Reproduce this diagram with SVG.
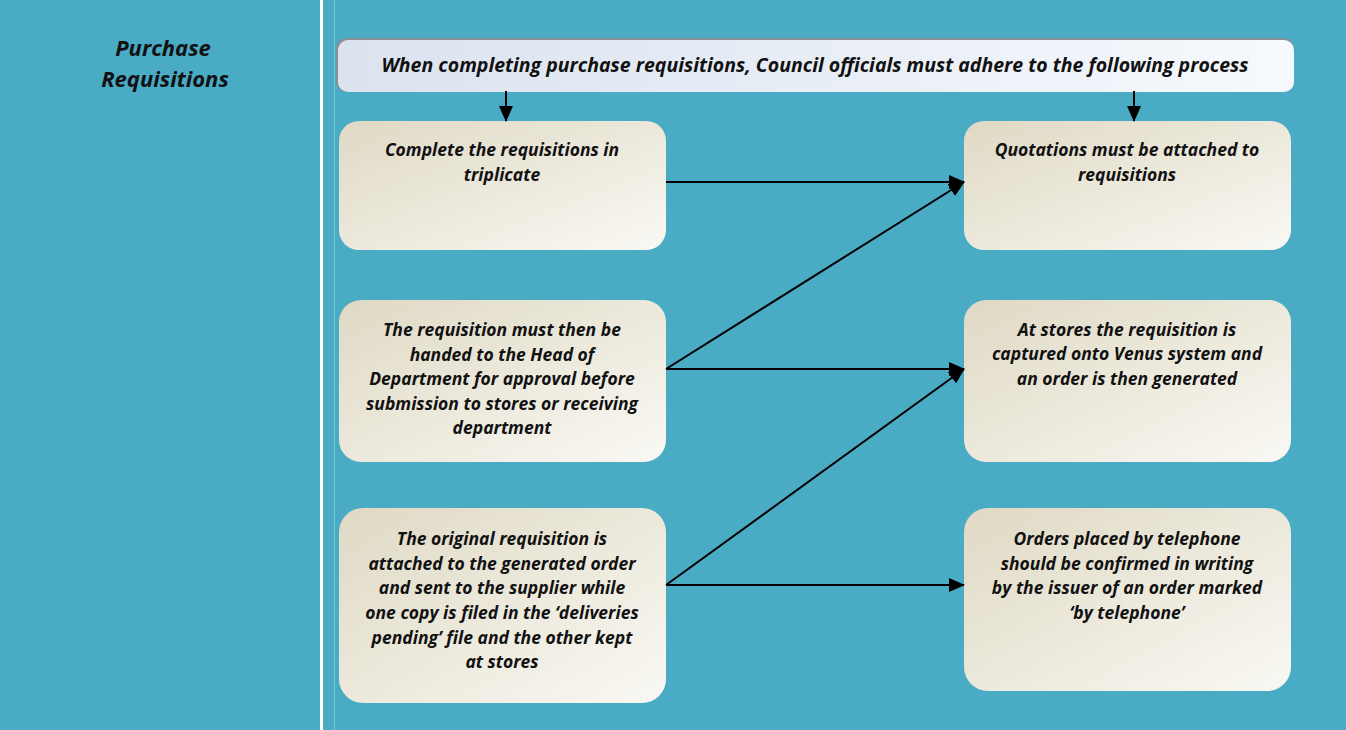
<svg xmlns="http://www.w3.org/2000/svg" width="1346" height="730" viewBox="0 0 1346 730">
<defs>
<linearGradient id="boxGrad" x1="0" y1="0" x2="1" y2="1">
<stop offset="0" stop-color="#DFD9C4"/>
<stop offset="1" stop-color="#F9F8F3"/>
</linearGradient>
<linearGradient id="headGrad" x1="0" y1="0" x2="1" y2="0">
<stop offset="0" stop-color="#DBE3EF"/>
<stop offset="1" stop-color="#F6F9FD"/>
</linearGradient>
<marker id="arrBig" markerWidth="16" markerHeight="14" refX="15" refY="7" orient="auto" markerUnits="userSpaceOnUse" viewBox="0 0 16 14">
<path d="M0,0 L16,7 L0,14 z" fill="#000"/>
</marker>
</defs>
<style>
.t{font-family:"Open Sans","Noto Sans","Liberation Sans",sans-serif;font-weight:bold;font-style:italic;fill:#111;text-anchor:middle}
.b{font-size:17.5px}
.box{fill:url(#boxGrad)}
.con{stroke:#000;stroke-width:2;fill:none}
</style>
<rect x="0" y="0" width="1346" height="730" fill="#4AABC5"/>
<rect x="320" y="0" width="3" height="730" fill="#FFFFFF"/>
<rect x="334" y="0" width="1" height="730" fill="#7CC3D6"/>
<g id="title">
<text class="t" x="163" y="56" font-size="22">Purchase</text>
<text class="t" x="165" y="87" font-size="22">Requisitions</text>
</g>
<g id="header">
<rect x="336" y="38" width="958" height="54" rx="11" fill="#8A8F96"/>
<rect x="338" y="40" width="956" height="52" rx="10" fill="url(#headGrad)"/>
<text class="t" x="815" y="72" font-size="19.5">When completing purchase requisitions, Council officials must adhere to the following process</text>
</g>
<g id="n1">
<rect class="box" x="339" y="121" width="327" height="129" rx="20"/>
<text class="t b" x="502" y="156">Complete the requisitions in</text>
<text class="t b" x="502" y="181">triplicate</text>
</g>
<g id="n2">
<rect class="box" x="964" y="121" width="327" height="129" rx="20"/>
<text class="t b" x="1127" y="156">Quotations must be attached to</text>
<text class="t b" x="1127" y="181">requisitions</text>
</g>
<g id="n3">
<rect class="box" x="339" y="300" width="327" height="162" rx="22"/>
<text class="t b" x="502" y="336">The requisition must then be</text>
<text class="t b" x="502" y="361">handed to the Head of</text>
<text class="t b" x="502" y="385">Department for approval before</text>
<text class="t b" x="502" y="410">submission to stores or receiving</text>
<text class="t b" x="502" y="434">department</text>
</g>
<g id="n4">
<rect class="box" x="964" y="300" width="327" height="162" rx="22"/>
<text class="t b" x="1127" y="336">At stores the requisition is</text>
<text class="t b" x="1127" y="360">captured onto Venus system and</text>
<text class="t b" x="1127" y="385">an order is then generated</text>
</g>
<g id="n5">
<rect class="box" x="339" y="508" width="327" height="195" rx="24"/>
<text class="t b" x="502" y="545">The original requisition is</text>
<text class="t b" x="502" y="570">attached to the generated order</text>
<text class="t b" x="502" y="594">and sent to the supplier while</text>
<text class="t b" x="502" y="619">one copy is filed in the ‘deliveries</text>
<text class="t b" x="502" y="644">pending’ file and the other kept</text>
<text class="t b" x="502" y="668">at stores</text>
</g>
<g id="n6">
<rect class="box" x="964" y="508" width="327" height="183" rx="24"/>
<text class="t b" x="1127" y="545">Orders placed by telephone</text>
<text class="t b" x="1127" y="570">should be confirmed in writing</text>
<text class="t b" x="1127" y="594">by the issuer of an order marked</text>
<text class="t b" x="1127" y="619">‘by telephone’</text>
</g>
<g id="connectors">
<line class="con" x1="506" y1="91" x2="506" y2="121" marker-end="url(#arrBig)"/>
<line class="con" x1="1134" y1="91" x2="1134" y2="121" marker-end="url(#arrBig)"/>
<line class="con" x1="666" y1="182" x2="964" y2="182" marker-end="url(#arrBig)"/>
<line class="con" x1="666" y1="369" x2="964" y2="182" marker-end="url(#arrBig)"/>
<line class="con" x1="666" y1="369" x2="964" y2="369" marker-end="url(#arrBig)"/>
<line class="con" x1="666" y1="585" x2="964" y2="369" marker-end="url(#arrBig)"/>
<line class="con" x1="666" y1="585" x2="964" y2="585" marker-end="url(#arrBig)"/>
</g>
</svg>
